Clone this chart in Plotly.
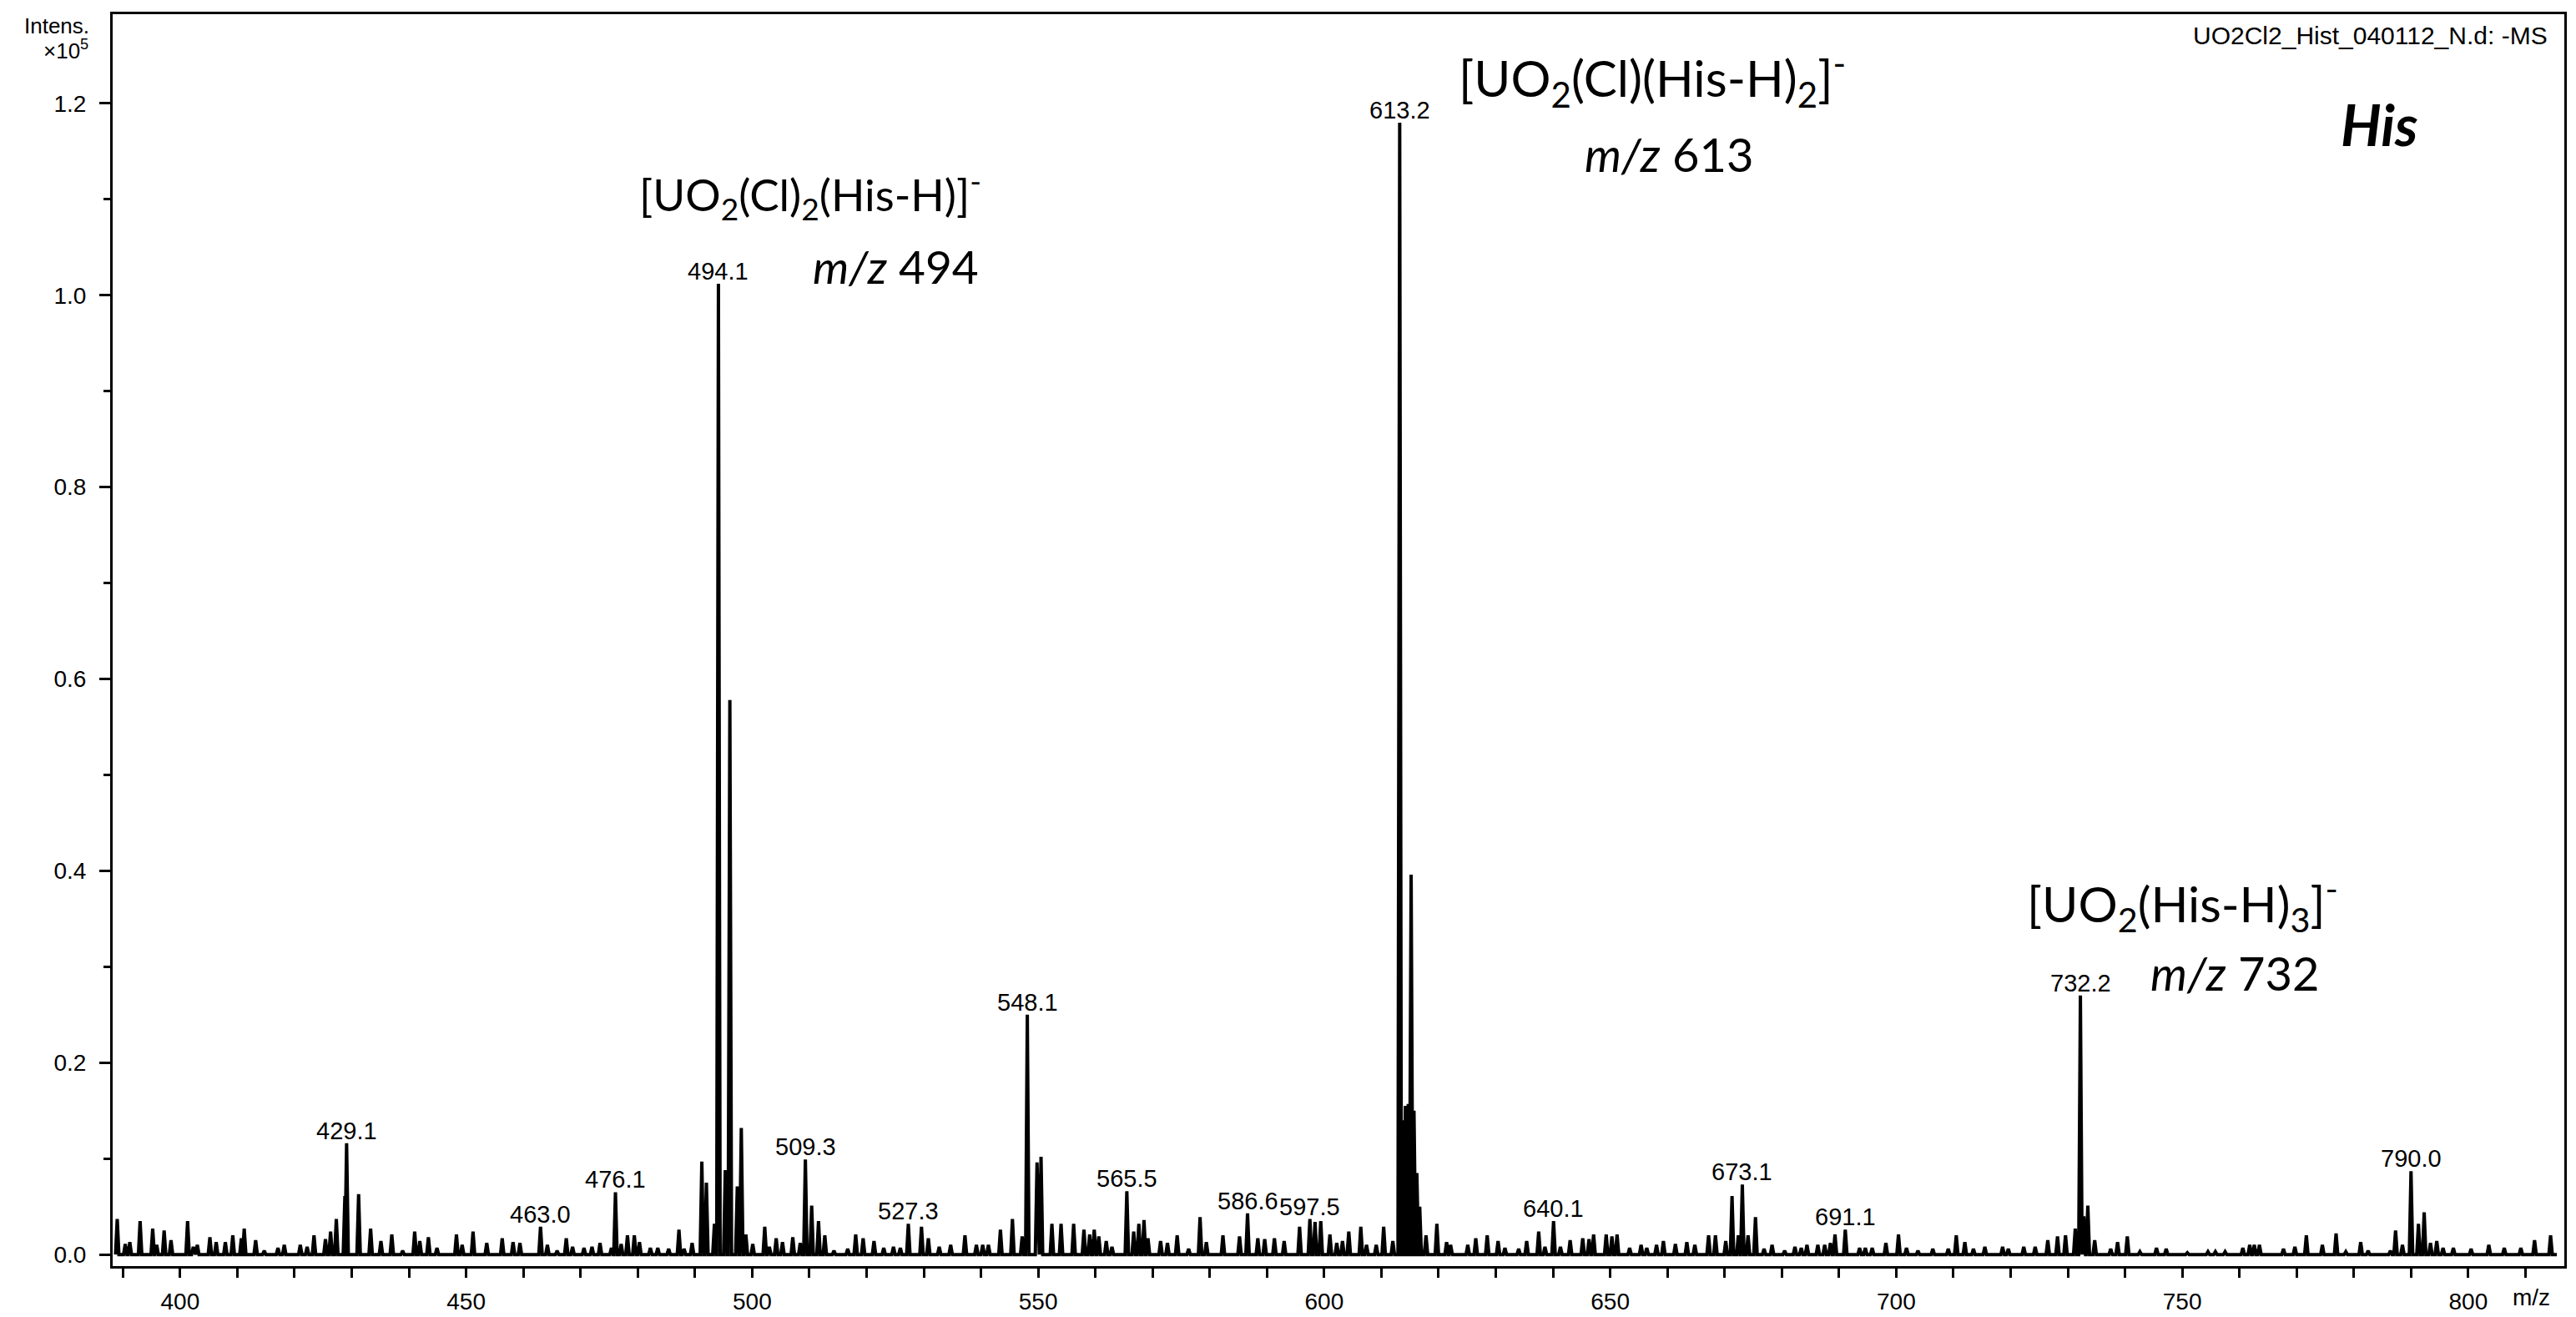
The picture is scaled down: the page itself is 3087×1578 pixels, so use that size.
import plotly.graph_objects as go

# peak table (m/z, intensity x10^5)
peak_mz = [
    389.0, 390.4, 391.2, 393.0, 395.2, 395.9, 397.2, 398.4, 401.3, 402.3,
    403.0, 405.2, 406.3, 407.9, 409.2, 410.7, 411.2, 413.2, 414.7, 417.1,
    418.2, 421.0, 422.2, 423.4, 425.4, 426.3, 427.3, 428.8, 429.1, 431.2,
    433.3, 435.1, 437.0, 438.9, 441.0, 441.9, 443.4, 444.9, 448.3, 449.3,
    451.2, 453.6, 456.3, 458.2, 459.4, 463.0, 464.2, 465.9, 467.5, 468.6,
    470.6, 472.0, 473.4, 475.4, 476.1, 477.1, 478.2, 479.4, 480.3, 482.2,
    483.5, 485.4, 487.2, 488.1, 489.5, 491.2, 492.0, 493.4, 494.1, 495.3,
    496.1, 497.4, 498.1, 498.9, 500.1, 502.2, 503.0, 504.2, 505.3, 507.1,
    508.4, 509.3, 510.4, 511.6, 512.7, 514.3, 516.7, 518.1, 519.4, 521.3,
    523.0, 524.7, 525.9, 527.3, 529.6, 530.8, 532.7, 534.7, 537.2, 539.2,
    540.3, 541.3, 543.4, 545.5, 547.2, 548.1, 549.8, 550.5, 552.4, 554.0,
    556.2, 558.0, 559.0, 559.8, 560.6, 561.9, 562.9, 565.5, 566.7, 567.6,
    568.5, 569.2, 571.4, 572.6, 574.3, 576.3, 578.3, 579.4, 582.3, 585.2,
    586.6, 588.4, 589.6, 591.3, 593.0, 595.7, 597.5, 598.4, 599.4, 601.0,
    602.2, 603.2, 604.3, 606.4, 607.4, 609.1, 610.4, 612.0, 613.2, 613.7,
    614.2, 614.7, 615.2, 615.7, 616.2, 616.7, 617.8, 619.7, 621.4, 622.1,
    625.1, 626.5, 628.5, 630.4, 631.6, 634.0, 635.4, 637.5, 638.6, 640.1,
    641.3, 643.0, 645.2, 646.3, 647.1, 649.3, 650.3, 651.2, 653.4, 655.4,
    656.4, 658.1, 659.3, 661.4, 663.4, 664.8, 667.2, 668.4, 670.2, 671.3,
    672.4, 673.1, 674.1, 675.4, 676.9, 678.3, 680.5, 682.3, 683.4, 684.4,
    686.3, 687.5, 688.5, 689.3, 691.1, 693.6, 694.6, 695.8, 698.2, 700.4,
    701.8, 703.8, 706.4, 709.1, 710.5, 712.0, 713.5, 715.5, 718.6, 719.6,
    722.3, 724.3, 726.5, 728.2, 729.6, 731.3, 732.2, 732.8, 733.5, 734.7,
    737.5, 738.7, 740.4, 742.6, 745.5, 747.2, 750.9, 754.5, 755.8, 757.5,
    760.6, 761.8, 762.6, 763.5, 767.7, 769.7, 771.7, 774.5, 776.9, 778.6,
    781.2, 782.5, 786.4, 787.3, 788.5, 790.0, 791.3, 792.3, 793.4, 794.5,
    795.6, 797.4, 800.5, 803.6, 806.3, 809.2, 811.6, 814.4,
]
peak_int = [
    0.037, 0.011, 0.013, 0.035, 0.027, 0.010, 0.025, 0.015, 0.035, 0.008,
    0.010, 0.018, 0.013, 0.013, 0.020, 0.017, 0.027, 0.015, 0.004, 0.007,
    0.010, 0.010, 0.008, 0.020, 0.016, 0.024, 0.037, 0.061, 0.116, 0.063,
    0.027, 0.014, 0.021, 0.004, 0.024, 0.014, 0.018, 0.007, 0.021, 0.010,
    0.024, 0.012, 0.017, 0.013, 0.012, 0.029, 0.010, 0.004, 0.017, 0.008,
    0.007, 0.008, 0.012, 0.007, 0.065, 0.011, 0.020, 0.020, 0.013, 0.007,
    0.007, 0.006, 0.026, 0.006, 0.012, 0.097, 0.075, 0.032, 1.012, 0.088,
    0.578, 0.071, 0.132, 0.021, 0.011, 0.029, 0.008, 0.017, 0.013, 0.018,
    0.012, 0.099, 0.051, 0.035, 0.020, 0.004, 0.006, 0.021, 0.017, 0.014,
    0.007, 0.008, 0.007, 0.032, 0.029, 0.017, 0.008, 0.010, 0.020, 0.010,
    0.010, 0.010, 0.026, 0.037, 0.019, 0.250, 0.096, 0.102, 0.032, 0.032,
    0.032, 0.026, 0.021, 0.026, 0.019, 0.014, 0.008, 0.066, 0.024, 0.032,
    0.036, 0.017, 0.014, 0.012, 0.020, 0.006, 0.039, 0.013, 0.020, 0.019,
    0.043, 0.017, 0.016, 0.017, 0.014, 0.029, 0.037, 0.034, 0.035, 0.021,
    0.012, 0.014, 0.024, 0.029, 0.010, 0.010, 0.029, 0.014, 1.180, 0.140,
    0.155, 0.157, 0.396, 0.150, 0.085, 0.050, 0.020, 0.032, 0.013, 0.010,
    0.010, 0.017, 0.020, 0.014, 0.007, 0.006, 0.014, 0.024, 0.008, 0.035,
    0.008, 0.015, 0.017, 0.016, 0.021, 0.021, 0.019, 0.021, 0.007, 0.010,
    0.007, 0.010, 0.014, 0.011, 0.013, 0.010, 0.020, 0.020, 0.014, 0.061,
    0.020, 0.073, 0.020, 0.039, 0.006, 0.010, 0.004, 0.008, 0.007, 0.010,
    0.010, 0.010, 0.012, 0.021, 0.026, 0.007, 0.007, 0.007, 0.012, 0.021,
    0.007, 0.004, 0.006, 0.006, 0.020, 0.013, 0.006, 0.008, 0.008, 0.006,
    0.008, 0.008, 0.015, 0.019, 0.020, 0.027, 0.270, 0.040, 0.051, 0.015,
    0.006, 0.013, 0.019, 0.003, 0.007, 0.006, 0.002, 0.003, 0.003, 0.003,
    0.007, 0.010, 0.010, 0.010, 0.006, 0.008, 0.020, 0.010, 0.022, 0.003,
    0.013, 0.004, 0.004, 0.025, 0.010, 0.087, 0.032, 0.044, 0.012, 0.014,
    0.007, 0.007, 0.006, 0.010, 0.007, 0.007, 0.015, 0.020,
]

# labelled peaks
label_mz = [429.1, 463.0, 476.1, 494.1, 509.3, 527.3, 548.1, 565.5, 586.6,
            597.5, 613.2, 640.1, 673.1, 691.1, 732.2, 790.0]
label_int = [0.116, 0.029, 0.065, 1.012, 0.099, 0.032, 0.250, 0.066, 0.043,
             0.037, 1.180, 0.035, 0.073, 0.026, 0.270, 0.087]

# species annotations
species = [
    ("[UO<sub>2</sub>(Cl)<sub>2</sub>(His-H)]<sup>-</sup>", "<i>m/z</i> 494"),
    ("[UO<sub>2</sub>(Cl)(His-H)<sub>2</sub>]<sup>-</sup>", "<i>m/z</i> 613"),
    ("[UO<sub>2</sub>(His-H)<sub>3</sub>]<sup>-</sup>", "<i>m/z</i> 732"),
]
# (formula x, y, size, m/z x, y, size)
species_pos = [(510.2, 1.105, 53, 525.1, 1.030, 55),
               (657.3, 1.226, 60, 660.3, 1.147, 56),
               (750.0, 0.366, 59, 759.2, 0.294, 56)]

# build a profile trace from the peak table
half_w = 0.3
pairs = sorted(zip(peak_mz, peak_int))
xs, ys = [388.7], [0.0]
for m, h in pairs:
    xs += [m - half_w, m, m + half_w]
    ys += [0.0, h, 0.0]
xs.append(815.5)
ys.append(0.0)

fig = go.Figure()
fig.add_trace(go.Scatter(x=xs, y=ys, mode="lines",
                         line=dict(color="black", width=4),
                         hoverinfo="skip", showlegend=False))

tick_font = dict(family="Liberation Sans, Arial", size=28, color="black")
peak_font = dict(family="Liberation Sans, Arial", size=29, color="black")
for m, h in zip(label_mz, label_int):
    fig.add_annotation(x=m, y=h, text=f"{m:.1f}", showarrow=False,
                       xanchor="center", yanchor="bottom", yshift=-3,
                       font=peak_font)

for (txt, mz_txt), (x1, y1, s1, x2, y2, s2) in zip(species, species_pos):
    fig.add_annotation(x=x1, y=y1, text=txt, showarrow=False,
                       xanchor="center", yanchor="middle",
                       font=dict(family="Lato", size=s1, color="black"))
    fig.add_annotation(x=x2, y=y2, text=mz_txt, showarrow=False,
                       xanchor="center", yanchor="middle",
                       font=dict(family="Lato", size=s2, color="black"))

# header texts
fig.add_annotation(xref="paper", yref="paper", x=-0.0089, y=0.9907,
                   text="Intens.", showarrow=False, xanchor="right",
                   yanchor="middle", font=dict(family="Liberation Sans", size=26, color="black"))
fig.add_annotation(xref="paper", yref="paper", x=-0.0092, y=0.972,
                   text="×10<sup>5</sup>", showarrow=False, xanchor="right",
                   yanchor="middle", font=dict(family="Liberation Sans", size=26, color="black"))
fig.add_annotation(xref="paper", yref="paper", x=0.9939, y=0.9827,
                   text="UO2Cl2_Hist_040112_N.d: -MS", showarrow=False,
                   xanchor="right", yanchor="middle",
                   font=dict(family="Liberation Sans", size=30, color="black"))
fig.add_annotation(xref="paper", yref="paper", x=0.9245, y=0.912,
                   text="<b><i>His</i></b>", showarrow=False,
                   xanchor="center", yanchor="middle",
                   font=dict(family="Lato", size=68, color="black"))
fig.add_annotation(xref="paper", yref="paper", x=0.9864, y=-0.0253,
                   text="m/z", showarrow=False, xanchor="center",
                   yanchor="middle", font=tick_font)

fig.update_xaxes(range=[388.2, 816.8], showline=True, mirror=True,
                 linecolor="black", linewidth=3, showgrid=False, zeroline=False,
                 ticks="outside", ticklen=11, tickwidth=2.5, tickcolor="black",
                 tick0=0, dtick=50, tickfont=tick_font, automargin=False,
                 ticklabelstandoff=4,
                 minor=dict(dtick=10, tick0=0, ticks="outside", ticklen=11,
                            tickwidth=2.5, tickcolor="black", showgrid=False))
fig.update_yaxes(range=[-0.012, 1.293], showline=True, mirror=True,
                 linecolor="black", linewidth=3, showgrid=False, zeroline=False,
                 ticks="outside", ticklen=13, tickwidth=2.5, tickcolor="black",
                 tick0=0, dtick=0.2, tickformat=".1f", tickfont=tick_font,
                 automargin=False, ticklabelstandoff=10,
                 minor=dict(dtick=0.1, tick0=0, ticks="outside", ticklen=8,
                            tickwidth=2.5, tickcolor="black", showgrid=False))

# the page body adds an 8px offset, so the figure is 8px smaller
fig.update_layout(width=3079, height=1570,
                  margin=dict(l=127, r=14, t=9, b=61, autoexpand=False),
                  paper_bgcolor="white", plot_bgcolor="white")

fig.write_html("out.html")
